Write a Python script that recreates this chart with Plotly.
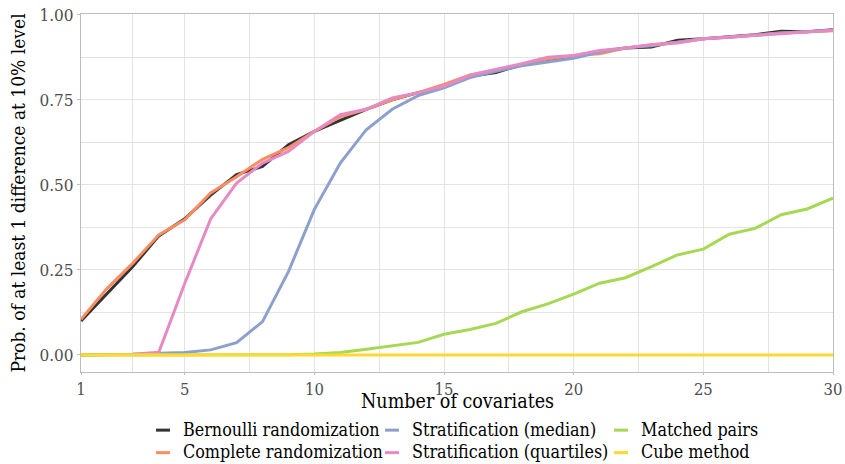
import plotly.graph_objects as go

n_covariates = list(range(1, 31))

bernoulli = [0.10, 0.18, 0.26, 0.35, 0.40, 0.47, 0.53, 0.554, 0.618, 0.657,
             0.69, 0.722, 0.75, 0.771, 0.787, 0.819, 0.83, 0.853, 0.865, 0.877,
             0.892, 0.902, 0.905, 0.925, 0.929, 0.934, 0.941, 0.951, 0.95, 0.956]
complete = [0.105, 0.195, 0.27, 0.353, 0.397, 0.476, 0.524, 0.575, 0.609, 0.657,
            0.70, 0.722, 0.75, 0.771, 0.795, 0.823, 0.838, 0.855, 0.87, 0.88,
            0.885, 0.902, 0.912, 0.919, 0.929, 0.934, 0.941, 0.946, 0.95, 0.953]
strat_median = [0.0, 0.0, 0.002, 0.005, 0.007, 0.015, 0.036, 0.098, 0.245, 0.428,
                0.564, 0.662, 0.722, 0.762, 0.785, 0.815, 0.834, 0.85, 0.862, 0.872,
                0.89, 0.902, 0.909, 0.919, 0.929, 0.934, 0.941, 0.946, 0.95, 0.954]
strat_quartiles = [0.0, 0.0, 0.002, 0.008, 0.21, 0.40, 0.505, 0.564, 0.598, 0.657,
                   0.706, 0.722, 0.755, 0.771, 0.79, 0.822, 0.838, 0.856, 0.875, 0.88,
                   0.895, 0.902, 0.912, 0.917, 0.929, 0.934, 0.941, 0.946, 0.95, 0.954]
matched_pairs = [0.0, 0.0, 0.0, 0.0, 0.0, 0.0, 0.0, 0.0, 0.001, 0.003,
                 0.007, 0.017, 0.027, 0.037, 0.061, 0.075, 0.093, 0.127, 0.15, 0.179,
                 0.211, 0.227, 0.26, 0.294, 0.311, 0.355, 0.372, 0.412, 0.429, 0.461]
cube = [0.0] * 30

series_names = ["Bernoulli randomization", "Complete randomization",
                "Stratification (median)", "Stratification (quartiles)",
                "Matched pairs", "Cube method"]
series_values = [bernoulli, complete, strat_median, strat_quartiles, matched_pairs, cube]
series_colors = ["#333333", "#FC8D62", "#8DA0CB", "#E78AC3", "#A6D854", "#FFD92F"]
legend_ranks = [1, 4, 2, 5, 3, 6]

x_ticks = [1, 5, 10, 15, 20, 25, 30]
y_ticks = [0, 0.25, 0.5, 0.75, 1.0]
y_tick_labels = ["0.00", "0.25", "0.50", "0.75", "1.00"]
x_minor = [3, 7.5, 12.5, 17.5, 22.5, 27.5]
y_minor = [0.125, 0.375, 0.625, 0.875]
x_title = "Number of covariates"
y_title = "Prob. of at least 1 difference at 10% level"

FONT = "DejaVu Serif Condensed"

fig = go.Figure()
for name, vals, col in zip(series_names, series_values, series_colors):
    fig.add_trace(go.Scatter(x=n_covariates, y=vals, mode="lines", name=name,
                             line=dict(color=col, width=3), showlegend=False))
for name, col, rk in zip(series_names, series_colors, legend_ranks):
    fig.add_trace(go.Scatter(x=[None], y=[None], mode="markers",
                             name="<span style='font-size:17.8px'>%s</span>" % name,
                             legendrank=rk,
                             marker=dict(symbol="line-ew", size=10,
                                         line=dict(color=col, width=3))))

grid_col = "#E3E3E3"
fig.update_layout(
    width=845, height=464,
    margin=dict(l=81, r=12, t=14, b=92, autoexpand=False),
    paper_bgcolor="white", plot_bgcolor="white",
    font=dict(family=FONT, size=18, color="#000000"),
    xaxis=dict(range=[1, 30], tickvals=x_ticks, ticktext=[str(v) for v in x_ticks],
               automargin=False,
               showgrid=True, gridcolor=grid_col, gridwidth=1,
               minor=dict(tickvals=x_minor, showgrid=True, gridcolor=grid_col, gridwidth=1),
               zeroline=False, showline=True, linecolor="#BDBDBD", linewidth=1.2, mirror=True,
               ticks="outside", ticklen=2, tickcolor="#BDBDBD",
               tickfont=dict(family=FONT, size=16.5, color="#4D4D4D")),
    yaxis=dict(range=[-0.05, 1.002], tickvals=y_ticks, ticktext=y_tick_labels,
               automargin=False, ticklabeloverflow="allow",
               showgrid=True, gridcolor=grid_col, gridwidth=1,
               minor=dict(tickvals=y_minor, showgrid=True, gridcolor=grid_col, gridwidth=1),
               zeroline=False, showline=True, linecolor="#BDBDBD", linewidth=1.2, mirror=True,
               ticks="outside", ticklen=3, tickcolor="#BDBDBD",
               tickfont=dict(family=FONT, size=17, color="#4D4D4D"),
               title=dict(text=y_title, standoff=8,
                          font=dict(family=FONT, size=19, color="#000000"))),
    legend=dict(orientation="h", x=(143 - 81) / 752, xanchor="left",
                yref="container", y=0.108, yanchor="top",
                entrywidth=184, entrywidthmode="pixels", tracegroupgap=0,
                itemwidth=30, font=dict(family=FONT, size=15, color="#000000"),
                bgcolor="rgba(0,0,0,0)"),
    annotations=[dict(text=x_title, xref="paper", yref="paper", x=0.5, y=0,
                      xanchor="center", yanchor="middle", yshift=-29, showarrow=False,
                      borderpad=0,
                      font=dict(family=FONT, size=19.5, color="#000000"))],
)

fig.write_html("out.html", config={"displayModeBar": False},
               post_script="document.body.style.margin='0px';")
